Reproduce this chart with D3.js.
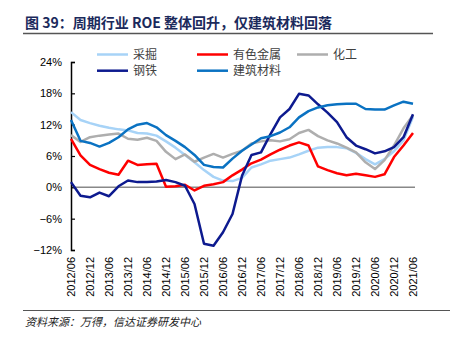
<!DOCTYPE html>
<html><head><meta charset="utf-8">
<script src="https://cdn.jsdelivr.net/npm/d3@7/dist/d3.min.js"></script>
<style>body{margin:0;background:#fff;}svg{display:block;}</style>
</head><body>
<script>
const quarters = ["2012/06","2012/09","2012/12","2013/03","2013/06","2013/09","2013/12","2014/03","2014/06","2014/09","2014/12","2015/03","2015/06","2015/09","2015/12","2016/03","2016/06","2016/09","2016/12","2017/03","2017/06","2017/09","2017/12","2018/03","2018/06","2018/09","2018/12","2019/03","2019/06","2019/09","2019/12","2020/03","2020/06","2020/09","2020/12","2021/03","2021/06"];
const mining   = [14.4,12.9,12.3,11.8,11.4,11.1,10.9,10.4,10.3,9.9,8.8,7.6,6.2,4.8,3.3,2.0,1.3,1.2,1.8,3.8,4.4,5.1,5.4,5.7,6.3,7.0,7.6,7.7,7.7,7.5,6.6,5.4,4.4,5.4,6.9,9.0,13.5];
const metals   = [9.3,6.1,4.3,3.5,2.8,2.4,5.1,4.3,4.4,4.5,0.1,0.2,0.5,-0.6,0.3,0.6,1.0,2.3,3.4,4.6,5.3,6.3,7.2,8.0,8.6,8.0,4.0,3.3,2.7,2.3,2.6,2.3,2.0,2.5,5.8,8.0,10.4];
const chem     = [10.0,8.7,9.6,9.9,10.1,10.3,9.3,9.1,9.5,8.9,6.8,5.4,6.3,4.9,5.7,6.4,5.7,6.4,7.0,8.4,8.8,9.0,8.8,9.2,10.4,11.0,9.8,9.0,8.4,7.6,6.7,4.8,3.5,5.2,8.0,11.3,13.8];
const steel    = [1.0,-1.6,-1.9,-1.0,-1.7,0.2,1.3,1.0,1.0,1.1,1.4,1.0,0.3,-3.2,-10.8,-11.2,-8.6,-5.1,2.2,6.2,6.7,10.2,13.4,15.0,17.9,17.6,15.9,14.3,12.5,9.6,8.0,7.3,6.5,6.9,7.7,9.6,14.0];
const building = [12.9,8.9,8.5,7.8,8.5,9.6,11.1,12.0,12.3,11.5,10.0,8.9,7.7,6.2,4.3,3.9,3.8,5.5,7.0,8.2,9.4,9.8,10.5,11.5,13.4,14.6,15.3,15.7,15.9,16.0,16.0,15.0,14.9,14.9,15.7,16.4,16.0];
const seriesNames = ["采掘","有色金属","化工","钢铁","建筑材料"];
const seriesColors = ["#A7D3F7","#FF0000","#AEAEAE","#0D1A8F","#0A72C2"];
const yTicks = [-12,-6,0,6,12,18,24];
const title = "图 39：周期行业 ROE 整体回升，仅建筑材料回落";
const source = "资料来源：万得，信达证券研发中心";

const W = 450, H = 342;
const svg = d3.select("body").append("svg").attr("width", W).attr("height", H);

// title
svg.append("text").attr("x", 25).attr("y", 28).text(title)
  .attr("font-family", "'Noto Sans CJK SC', sans-serif").attr("font-weight", "bold")
  .attr("font-size", 14).attr("fill", "#1B2A5C");
svg.append("line").attr("x1", 23).attr("x2", 433).attr("y1", 33.5).attr("y2", 33.5)
  .attr("stroke", "#555").attr("stroke-width", 1.5);

const x = d3.scalePoint().domain(quarters).range([71, 413]);
const y = d3.scaleLinear().domain([-12, 24]).range([250, 62]);

// zero line
svg.append("line").attr("x1", 71).attr("x2", 415).attr("y1", y(0)).attr("y2", y(0))
  .attr("stroke", "#888").attr("stroke-width", 1.5);

// y axis
const yAxis = d3.axisLeft(y).tickValues(yTicks).tickSize(-4).tickPadding(9)
  .tickFormat(d => (d < 0 ? "\u2212" + Math.abs(d) : d) + "%");
const gy = svg.append("g").attr("transform", "translate(71,0)").call(yAxis);
gy.select(".domain").attr("stroke", "#000").attr("stroke-width", 1.5);
gy.selectAll(".tick line").attr("stroke", "#000").attr("stroke-width", 1.2);
gy.selectAll("text").attr("font-family", "'Liberation Sans', Arial, sans-serif")
  .attr("font-size", 11).attr("fill", "#000");

// x axis labels (half-year)
const xLabels = quarters.filter(q => q.endsWith("/06") || q.endsWith("/12"));
const xAxis = d3.axisBottom(x).tickValues(xLabels).tickSize(0).tickPadding(0);
const gx = svg.append("g").attr("transform", "translate(0,257)").call(xAxis);
gx.select(".domain").remove();
gx.selectAll("text").attr("font-family", "'Liberation Sans', Arial, sans-serif")
  .attr("font-size", 11).attr("fill", "#000")
  .attr("text-anchor", "end").attr("transform", "rotate(-90)")
  .attr("x", 0).attr("y", 0).attr("dx", 0).attr("dy", "0.35em");

// lines
const allSeries = [mining, metals, chem, steel, building];
const line = d3.line().x((d, i) => x(quarters[i])).y(d => y(d));
allSeries.forEach((s, k) => {
  svg.append("path").datum(s).attr("d", line).attr("fill", "none")
    .attr("stroke", seriesColors[k]).attr("stroke-width", 2.5)
    .attr("stroke-linejoin", "round");
});

// legend
const legX = [97, 197, 297];
const legY = [54.5, 70.7];
seriesNames.forEach((n, k) => {
  const col = k % 3, row = Math.floor(k / 3);
  const g = svg.append("g");
  g.append("line").attr("x1", legX[col]).attr("x2", legX[col] + 31)
    .attr("y1", legY[row]).attr("y2", legY[row])
    .attr("stroke", seriesColors[k]).attr("stroke-width", 2.5);
  g.append("text").attr("x", legX[col] + 36).attr("y", legY[row]).attr("dy", "0.35em")
    .text(n).attr("font-family", "'Noto Sans CJK SC', sans-serif")
    .attr("font-size", 12).attr("fill", "#404040");
});

// bottom rule + source
svg.append("line").attr("x1", 23).attr("x2", 450).attr("y1", 310.5).attr("y2", 310.5)
  .attr("stroke", "#555").attr("stroke-width", 1.2);
svg.append("text").attr("x", 25).attr("y", 326).text(source)
  .attr("font-family", "'Noto Sans CJK SC', sans-serif").attr("font-style", "italic")
  .attr("font-size", 11).attr("fill", "#222");
</script>
</body></html>
